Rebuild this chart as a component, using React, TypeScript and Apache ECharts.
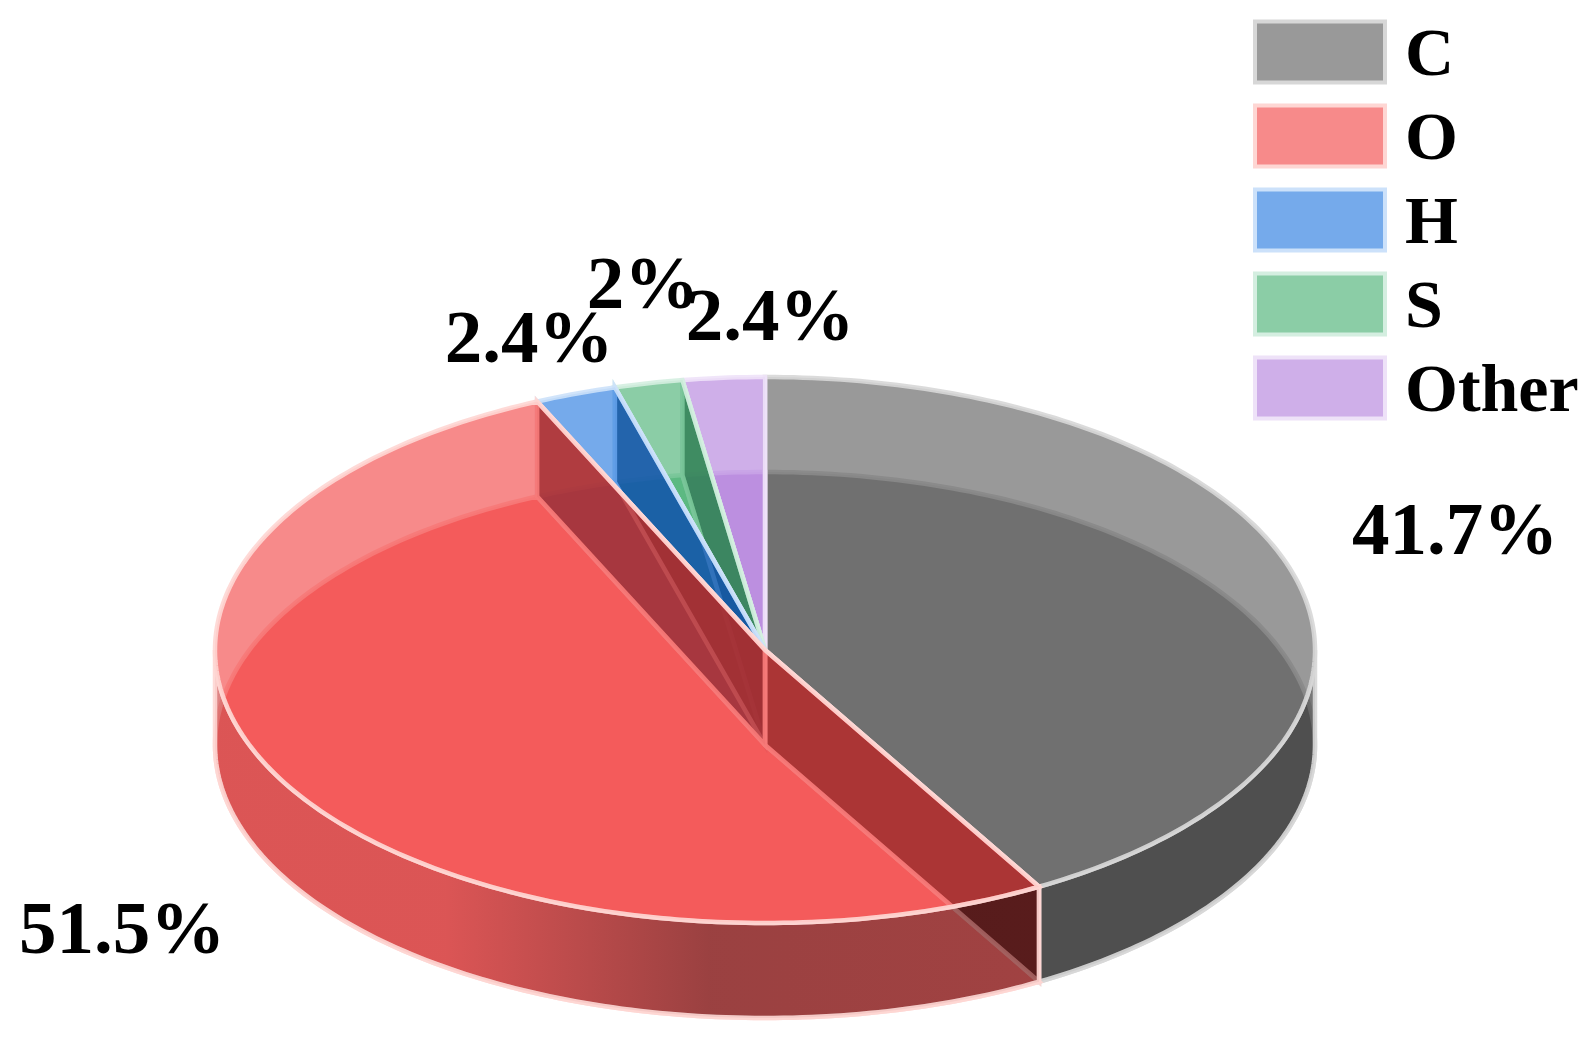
import React, { useEffect, useRef } from "react";
import * as echarts from "echarts";

const categories = ["C", "O", "H", "S", "Other"];
const values = [41.7, 51.5, 2.4, 2, 2.4];
const paintOrder = [0, 4, 3, 2, 1];

const faceColors = ["85,85,85", "241,60,60", "25,113,222", "62,172,107", "175,122,218"];
const wallColors = ["30,30,30", "60,20,20", "10,40,80", "20,70,40", "60,40,90"];
const edgeColors = ["215,215,215", "254,214,211", "204,225,250", "212,238,224", "238,226,248"];
const labelAnchors: [number, number][] = [[1455, 528], [122, 927], [529, 336], [643, 282], [770, 314]];

const CX = 765, CY = 650, RX = 550, RY = 273, DEPTH = 95;
const A = 0.6;

const pt = (deg: number, dy = 0): number[] => {
  const r = (deg * Math.PI) / 180;
  return [CX + RX * Math.sin(r), CY - RY * Math.cos(r) + dy];
};
const arc = (a: number, b: number, dy = 0): number[][] => {
  const out: number[][] = [];
  const n = Math.max(2, Math.ceil(Math.abs(b - a)));
  for (let i = 0; i <= n; i++) out.push(pt(a + ((b - a) * i) / n, dy));
  return out;
};

const starts: number[] = [];
values.reduce((s, v, i) => { starts[i] = s; return s + v; }, 0);

function renderSlice(i: number) {
  return (_p: any, api: any) => {
    const a = (api.value(0) / 100) * 360;
    const b = (api.value(1) / 100) * 360;
    const edge = { stroke: `rgba(${edgeColors[i]},0.9)`, lineWidth: 4.5, lineJoin: "miter" };
    const fill = `rgba(${faceColors[i]},${A})`;
    const wall = `rgba(${wallColors[i]},${A})`;
    const c = [CX, CY], cb = [CX, CY + DEPTH];
    const poly = (points: number[][], f: any) => ({
      type: "polygon", shape: { points }, style: { fill: f, ...edge }, silent: true,
    });
    const children: any[] = [];
    children.push(poly([cb, ...arc(a, b, DEPTH)], fill));
    children.push(poly([c, pt(a), pt(a, DEPTH), cb], wall));
    children.push(poly([c, pt(b), pt(b, DEPTH), cb], wall));
    const fa = Math.max(a, 90), fb = Math.min(b, 270);
    if (fb > fa) {
      const wallFill = i === 1
        ? new echarts.graphic.LinearGradient(0, 0, 1, 0, [
            { offset: 0, color: `rgba(201,50,50,${A})` },
            { offset: 0.28, color: `rgba(201,50,50,${A})` },
            { offset: 0.6, color: `rgba(93,16,16,${A})` },
            { offset: 1, color: `rgba(103,18,18,${A})` },
          ])
        : wall;
      children.push(poly([...arc(fa, fb), ...arc(fb, fa, DEPTH)], wallFill));
    }
    children.push(poly([c, ...arc(a, b)], fill));
    children.push({
      type: "text", silent: true, z2: 100,
      style: {
        text: `${values[i]}%`, x: labelAnchors[i][0], y: labelAnchors[i][1],
        font: 'bold 75px "Liberation Serif"', fill: "#000", align: "center", verticalAlign: "middle",
      },
    });
    return { type: "group", children };
  };
}

export default function App() {
  const ref = useRef<HTMLDivElement>(null);
  useEffect(() => {
    const chart = echarts.init(ref.current!, undefined, { renderer: "svg" });
    chart.setOption({
      animation: false,
      legend: {
        orient: "vertical", left: 1248, top: 13, itemWidth: 130, itemHeight: 61, itemGap: 16,
        selectedMode: false, icon: "rect",
        textStyle: { fontFamily: "Liberation Serif", fontWeight: "bold", fontSize: 68, color: "#000", padding: [0, 0, 0, 15] },
        data: categories.map((name, i) => ({
          name,
          itemStyle: { color: `rgba(${faceColors[i]},${A})`, borderColor: `rgb(${edgeColors[i]})`, borderWidth: 4 },
        })),
      },
      series: paintOrder.map((i) => ({
        type: "custom", name: categories[i], coordinateSystem: "none", clip: false, silent: true,
        itemStyle: { color: `rgba(${faceColors[i]},${A})` },
        renderItem: renderSlice(i),
        data: [[starts[i], starts[i] + values[i]]],
      })),
    });
    return () => chart.dispose();
  }, []);
  return <div ref={ref} style={{ position: "fixed", left: 0, top: 0, width: 1588, height: 1041, background: "#fff" }} />;
}
